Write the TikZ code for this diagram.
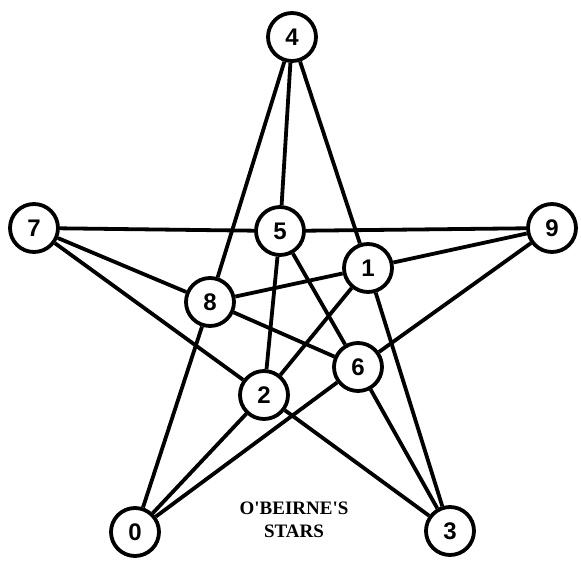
\documentclass[tikz,border=0pt]{standalone}
\usepackage{fontspec}
\newfontfamily\numfont{Liberation Sans}
\newfontfamily\capfont{Liberation Serif}
\begin{document}
\begin{tikzpicture}[x=1pt,y=-1pt,
  vtx/.style={circle,draw=black,line width=3.8pt,fill=white,minimum size=48pt,inner sep=0pt,font=\numfont\bfseries\fontsize{24}{24}\selectfont},
  edge/.style={line width=3.8pt}]
\useasboundingbox (0,0) rectangle (581,561);
\node[vtx] (n4) at (292,37) {4};
\node[vtx] (n7) at (34,228) {7};
\node[vtx] (n5) at (280,231) {5};
\node[vtx] (n9) at (552,228) {9};
\node[vtx] (n1) at (368,268) {1};
\node[vtx] (n8) at (210,302) {8};
\node[vtx] (n6) at (358,367) {6};
\node[vtx] (n2) at (264,395) {2};
\node[vtx] (n0) at (135,532) {0};
\node[vtx] (n3) at (450,531) {3};
\node[font=\capfont\bfseries\fontsize{19}{23}\selectfont,align=center] (title) at (294,520) {O'BEIRNE'S\\STARS};
\foreach \a/\b in {n4/n8,n4/n5,n4/n1,n8/n0,n1/n3,n7/n5,n5/n9,n7/n8,n7/n2,n2/n3,n9/n1,n9/n6,n6/n0,n5/n2,n5/n6,n1/n8,n1/n2,n8/n6,n6/n3,n2/n0}
  \draw[edge] (\a) -- (\b);
\end{tikzpicture}
\end{document}
